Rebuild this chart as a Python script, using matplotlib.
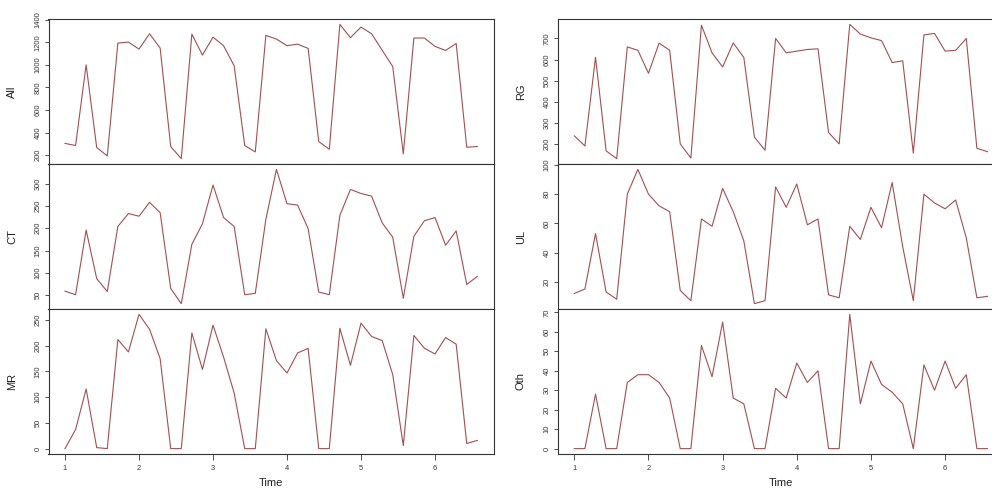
import numpy as np
import matplotlib
matplotlib.use("Agg")
import matplotlib.pyplot as plt
from matplotlib.ticker import FixedLocator

plt.rcParams['font.family'] = ['Liberation Sans', 'DejaVu Sans']

# weekly time series, frequency 7, starting at 1
start = 1
freq = 7

All = [305, 286, 1000, 268, 194, 1193, 1202, 1140, 1276, 1149,
       277, 170, 1273, 1087, 1246, 1170, 992, 286, 230, 1261,
       1229, 1170, 1184, 1146, 321, 253, 1359, 1241, 1335, 1276,
       1130, 986, 212, 1238, 1238, 1164, 1128, 1190, 271, 277]
CT = [59, 51, 196, 87, 58, 204, 233, 227, 258, 235,
      65, 31, 164, 210, 297, 224, 204, 51, 54, 220,
      332, 255, 252, 199, 57, 51, 229, 287, 278, 272,
      212, 180, 43, 182, 217, 224, 162, 194, 74, 92]
MR = [0, 37, 116, 2, 0, 212, 188, 261, 232, 175,
      0, 0, 225, 154, 240, 178, 108, 0, 0, 233,
      171, 147, 186, 195, 0, 0, 234, 162, 244, 218,
      210, 144, 6, 220, 195, 184, 216, 203, 10, 16]
RG = [238, 190, 611, 167, 130, 660, 644, 535, 678, 644,
      200, 133, 763, 632, 565, 679, 610, 232, 170, 700,
      632, 640, 648, 651, 254, 200, 767, 721, 703, 690,
      586, 594, 156, 717, 724, 640, 644, 700, 179, 163]
UL = [12, 15, 53, 13, 8, 80, 97, 80, 72, 68,
      14, 7, 63, 58, 84, 68, 48, 5, 7, 85,
      71, 87, 59, 63, 11, 9, 58, 49, 71, 57,
      88, 44, 7, 80, 74, 70, 76, 50, 9, 10]
Oth = [0, 0, 28, 0, 0, 34, 38, 38, 34, 26,
       0, 0, 53, 37, 65, 26, 23, 0, 0, 31,
       26, 44, 34, 40, 0, 0, 69, 23, 45, 33,
       29, 23, 0, 43, 30, 45, 31, 38, 0, 0]

series_left = [("All", All), ("CT", CT), ("MR", MR)]
series_right = [("RG", RG), ("UL", UL), ("Oth", Oth)]

yticks = {
    "All": [200, 400, 600, 800, 1000, 1200, 1400],
    "CT": [50, 100, 150, 200, 250, 300],
    "MR": [0, 50, 100, 150, 200, 250],
    "RG": [200, 300, 400, 500, 600, 700],
    "UL": [20, 40, 60, 80, 100],
    "Oth": [0, 10, 20, 30, 40, 50, 60, 70],
}
xticks = [1, 2, 3, 4, 5, 6]

W, H = 992, 491
fig = plt.figure(figsize=(W / 100, H / 100), dpi=100)

line_col = "#A34F4F"
box_col = "#333333"

n = len(All)
t = start + np.arange(n) / freq
xr = (t.min(), t.max())
xpad = 0.04 * (xr[1] - xr[0])
xlim = (xr[0] - xpad, xr[1] + xpad)

col_left_px = [48.5, 557.8]
col_w_px = [445.3, 446.2]
label_x_px = [17, 526]
panel_tops = [19, 164, 309]
panel_h = 145

for c, group in enumerate([series_left, series_right]):
    for r, (name, vals) in enumerate(group):
        top = panel_tops[r]
        ax = fig.add_axes([col_left_px[c] / W, 1 - (top + panel_h) / H,
                           col_w_px[c] / W, panel_h / H])
        v = np.asarray(vals, dtype=float)
        ax.plot(t, v, color=line_col, lw=0.8)
        lo, hi = v.min(), v.max()
        pad = 0.04 * (hi - lo)
        ax.set_ylim(lo - pad, hi + pad)
        ax.set_xlim(*xlim)
        ax.yaxis.set_major_locator(FixedLocator(yticks[name]))
        ax.tick_params(axis='y', labelsize=5.4, length=3, width=0.6,
                       colors=box_col, pad=2, labelrotation=90)
        for lab in ax.get_yticklabels():
            lab.set_verticalalignment('center')
            lab.set_clip_on(False)
        ax.set_ylabel(name, fontsize=8, color="#222222")
        ax.yaxis.set_label_coords((label_x_px[c] - col_left_px[c]) / col_w_px[c], 0.5)
        if r == 2:
            ax.xaxis.set_major_locator(FixedLocator(xticks))
            ax.tick_params(axis='x', labelsize=5.4, length=4, width=0.6,
                           colors=box_col, pad=4)
            ax.set_xlabel("Time", fontsize=8, color="#222222", labelpad=4)
        else:
            ax.set_xticks([])
        for sp in ax.spines.values():
            sp.set_color(box_col)
            sp.set_linewidth(0.8)

fig.savefig("out.png", dpi=100)
